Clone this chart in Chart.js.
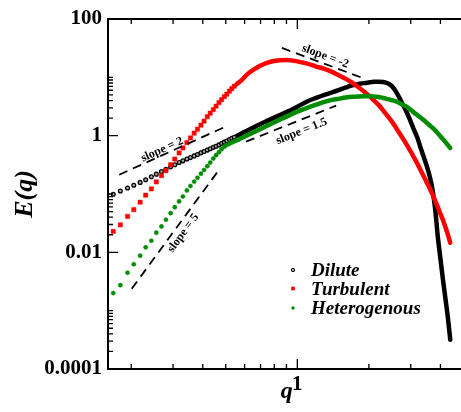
<!DOCTYPE html>
<html>
<head>
<meta charset="utf-8">
<title>E(q)</title>
<script src="https://cdn.jsdelivr.net/npm/chart.js@4.4.1/dist/chart.umd.min.js"></script>
<style>
  html, body { margin: 0; padding: 0; overflow: hidden; background: #fff; }
  canvas { display: block; }
</style>
</head>
<body>
<canvas id="spectrum" width="469" height="412"></canvas>
<script>
// wavenumbers shared by all three spectra
const q = [0.168, 0.180, 0.193, 0.205, 0.218, 0.230, 0.243, 0.255, 0.268, 0.280,
           0.293, 0.305, 0.318, 0.330, 0.343, 0.355, 0.368, 0.380, 0.393, 0.405,
           0.418, 0.430, 0.443, 0.455, 0.468, 0.480, 0.493, 0.505, 0.518, 0.530,
           0.543, 0.555, 0.58, 0.62, 0.66, 0.70, 0.75, 0.80, 0.85, 0.90, 0.95,
           1.0, 1.1, 1.2, 1.3, 1.4, 1.5, 1.6, 1.7, 1.8, 1.9,
           2.0, 2.1, 2.2, 2.3, 2.4, 2.5, 2.6, 2.7, 2.8, 2.9,
           3.0, 3.1, 3.2, 3.3, 3.4, 3.5, 3.6, 3.7, 3.8, 3.9,
           4.0, 4.1, 4.2, 4.3, 4.4];

const dilute = [0.0993, 0.1126, 0.127, 0.1416, 0.158, 0.176, 0.197, 0.219, 0.242, 0.265,
                0.292, 0.317, 0.346, 0.370, 0.397, 0.421, 0.450, 0.476, 0.507, 0.536,
                0.566, 0.596, 0.630, 0.660, 0.695, 0.732, 0.774, 0.811, 0.857, 0.899,
                0.942, 0.988, 1.082, 1.242, 1.41, 1.59, 1.81, 2.04, 2.28, 2.54, 2.80,
                3.14, 3.86, 4.45, 5.01, 5.51, 6.08, 6.71, 7.32, 7.64, 7.95,
                8.18, 8.37, 8.44, 8.34, 7.92, 7.06, 5.69, 4.31, 3.21, 2.40,
                1.74, 1.24, 0.924, 0.622, 0.436, 0.306, 0.206, 0.123, 0.056, 0.0185,
                0.00777, 0.00339, 0.00160, 0.000755, 0.000317];

const turbulent = [0.0228, 0.0295, 0.0413, 0.0538, 0.0723, 0.0953, 0.122, 0.161, 0.206, 0.251,
                   0.318, 0.398, 0.505, 0.615, 0.759, 0.913, 1.104, 1.29, 1.51, 1.77,
                   2.12, 2.43, 2.79, 3.21, 3.68, 4.14, 4.67, 5.15, 5.80, 6.40,
                   7.06, 7.64, 8.78, 11.57, 13.8, 15.9, 17.9, 19.1, 19.7, 19.9, 19.5,
                   18.8, 17.2, 15.3, 14.0, 12.4, 10.8, 9.42, 8.11, 6.84, 5.78,
                   4.85, 4.02, 3.34, 2.69, 2.16, 1.74, 1.37, 1.08, 0.854, 0.674,
                   0.532, 0.419, 0.331, 0.256, 0.202, 0.159, 0.127, 0.0993, 0.0767, 0.0594,
                   0.0459, 0.0356, 0.0270, 0.0201, 0.0146];

const heterogenous = [0.00200, 0.00273, 0.00447, 0.00625, 0.00875, 0.0122, 0.0158, 0.0217, 0.0278, 0.0362,
                      0.0469, 0.0594, 0.0747, 0.0906, 0.115, 0.137, 0.163, 0.190, 0.223, 0.258,
                      0.300, 0.347, 0.406, 0.463, 0.521, 0.587, 0.647, 0.692, 0.729, 0.762,
                      0.798, 0.828, 0.902, 1.024, 1.153, 1.303, 1.496, 1.698, 1.91, 2.12, 2.35,
                      2.58, 3.00, 3.40, 3.80, 4.10, 4.31, 4.50, 4.63, 4.70, 4.74,
                      4.74, 4.70, 4.59, 4.42, 4.23, 4.05, 3.86, 3.61, 3.33, 3.08,
                      2.79, 2.48, 2.25, 2.04, 1.85, 1.67, 1.51, 1.37, 1.24, 1.10,
                      0.980, 0.871, 0.773, 0.687, 0.615];

// labelled ticks and the unlabelled subdivisions
const xMajor = [1];
const xMinor = [0.2, 0.3, 0.4, 0.5, 0.6, 0.7, 0.8, 0.9, 2, 3, 4, 5];
const yMajor = [0.0001, 0.01, 1, 100];
const yMinor = [0.0002, 0.0003, 0.0004, 0.0005, 0.0006, 0.0007, 0.0008, 0.0009, 0.001,
                0.02, 0.03, 0.04, 0.05, 0.06, 0.07, 0.08, 0.09, 0.1,
                2, 3, 4, 5, 6, 7, 8, 9, 10];

// power-law guides: end points and caption anchor, all in (q, E)
const guides = [
  { text: 'slope = 2',   from: [0.178, 0.214],   to: [0.501, 1.44],  at: [0.270, 0.575] },
  { text: 'slope = 5',   from: [0.201, 0.00238], to: [0.463, 0.244], at: [0.331, 0.0214] },
  { text: 'slope = 1.5', from: [0.608, 0.789],   to: [1.456, 3.27],  at: [1.042, 1.185] },
  { text: 'slope = -2',  from: [0.861, 31.9],    to: [1.88, 9.77],   at: [1.31, 22.9] }
];

const SERIF = '"Liberation Serif", "Times New Roman", serif';
const SPARSE_END = 0.55;   // below this q the samples show as separate markers

function spectrum(label, values, color, style, radius, fill, order) {
  const ring = fill !== color;
  return {
    label: label,
    order: order,
    data: q.map((x, i) => ({ x: x, y: values[i] })),
    borderColor: color,
    borderWidth: 4.5,
    borderCapStyle: 'round',
    borderJoinStyle: 'round',
    cubicInterpolationMode: 'monotone',
    fill: false,
    segment: {
      borderColor: ctx => ctx.p0.parsed.x < SPARSE_END ? 'transparent' : color
    },
    pointStyle: style,
    pointRadius: ctx => (ctx.raw && ctx.raw.x < SPARSE_END) ? radius : 0,
    pointHoverRadius: 0,
    pointBorderColor: color,
    pointBackgroundColor: fill,
    pointBorderWidth: ring ? 1.3 : 0.5,
    keyStyle: style,
    keyFill: fill
  };
}

const series = [
  spectrum('Dilute', dilute, '#000000', 'circle', 1.9, '#a8a8a8', 3),
  spectrum('Turbulent', turbulent, '#ff0000', 'rect', 3, '#ff0000', 2),
  spectrum('Heterogenous', heterogenous, '#008c00', 'circle', 2.1, '#008c00', 1)
];

const guideSets = guides.map(g => ({
  label: g.text,
  order: 0,
  data: [{ x: g.from[0], y: g.from[1] }, { x: g.to[0], y: g.to[1] }],
  borderColor: '#000',
  borderWidth: 1.8,
  borderDash: [9, 6],
  pointRadius: 0,
  pointHoverRadius: 0,
  fill: false
}));

// captions written along each guide
const guideCaptions = {
  id: 'guideCaptions',
  afterDatasetsDraw(chart) {
    const { ctx, scales: { x, y } } = chart;
    ctx.save();
    ctx.fillStyle = '#000';
    ctx.font = 'bold 12px ' + SERIF;
    ctx.textAlign = 'center';
    ctx.textBaseline = 'middle';
    guides.forEach(g => {
      const x0 = x.getPixelForValue(g.from[0]), y0 = y.getPixelForValue(g.from[1]);
      const x1 = x.getPixelForValue(g.to[0]), y1 = y.getPixelForValue(g.to[1]);
      const ang = Math.atan2(y1 - y0, x1 - x0);
      ctx.save();
      ctx.translate(x.getPixelForValue(g.at[0]), y.getPixelForValue(g.at[1]));
      ctx.rotate(ang);
      ctx.fillText(g.text, 0, 0);
      ctx.restore();
    });
    ctx.restore();
  }
};

// key in the lower right of the plot
const seriesKey = {
  id: 'seriesKey',
  afterDraw(chart) {
    const { ctx, chartArea: a } = chart;
    ctx.save();
    ctx.font = 'italic bold 19px ' + SERIF;
    ctx.textBaseline = 'alphabetic';
    ctx.textAlign = 'left';
    const rows = [251, 269.5, 289];
    series.forEach((s, i) => {
      const sx = a.left + 185, sy = a.top + rows[i];
      ctx.fillStyle = s.borderColor;
      ctx.strokeStyle = s.borderColor;
      if (s.keyStyle === 'rect') {
        ctx.fillRect(sx - 1.8, sy - 1.8, 3.6, 3.6);
      } else {
        ctx.beginPath();
        ctx.arc(sx, sy, 1.7, 0, Math.PI * 2);
        if (s.keyFill !== s.borderColor) {
          ctx.lineWidth = 1;
          ctx.fillStyle = s.keyFill;
          ctx.fill();
          ctx.stroke();
        } else {
          ctx.fill();
        }
      }
      ctx.fillStyle = '#000';
      ctx.fillText(s.label, sx + 18, sy + 6);
    });
    ctx.restore();
  }
};

// box with inward tick marks on the bottom, top and left sides
const frame = {
  id: 'frame',
  afterDraw(chart) {
    const { ctx, chartArea: a, scales: { x, y } } = chart;
    ctx.save();
    ctx.strokeStyle = '#000';
    ctx.lineWidth = 1.3;
    ctx.beginPath();
    xMajor.concat(xMinor).forEach(v => {
      const px = x.getPixelForValue(v);
      const len = xMajor.includes(v) ? 10 : 5;
      ctx.moveTo(px, a.bottom); ctx.lineTo(px, a.bottom - len);
      ctx.moveTo(px, a.top); ctx.lineTo(px, a.top + len);
    });
    yMajor.concat(yMinor).forEach(v => {
      const py = y.getPixelForValue(v);
      const len = yMajor.includes(v) ? 10 : 5;
      ctx.moveTo(a.left, py); ctx.lineTo(a.left + len, py);
    });
    ctx.stroke();
    ctx.lineWidth = 2;
    ctx.strokeRect(a.left, a.top, a.right - a.left, a.bottom - a.top);
    ctx.restore();
  }
};

const tickFont = { family: SERIF, size: 21, weight: 'bold' };

new Chart(document.getElementById('spectrum'), {
  type: 'line',
  data: { datasets: guideSets.concat(series) },
  options: {
    responsive: false,
    animation: false,
    events: [],
    layout: { padding: { top: 19, left: 0, right: 0, bottom: 0 } },
    plugins: { legend: { display: false }, tooltip: { enabled: false } },
    scales: {
      x: {
        type: 'logarithmic',
        min: 0.1597,
        max: 5.10,
        afterBuildTicks: s => {
          s.ticks = xMajor.concat(xMinor).sort((a, b) => a - b).map(v => ({ value: v }));
        },
        afterFit: s => { s.height = 43; },
        grid: { display: false, drawTicks: false },
        border: { display: false },
        ticks: {
          autoSkip: false, maxRotation: 0, minRotation: 0, padding: 3,
          color: '#000', font: tickFont,
          callback: v => xMajor.includes(v) ? String(v) : ''
        },
        title: {
          display: true, text: 'q', color: '#000',
          font: { family: SERIF, size: 24, weight: 'bold', style: 'italic', lineHeight: 1 },
          padding: { top: 0, bottom: 8 }
        }
      },
      y: {
        type: 'logarithmic',
        min: 0.0001,
        max: 100,
        afterBuildTicks: s => {
          s.ticks = yMajor.concat(yMinor).sort((a, b) => a - b).map(v => ({ value: v }));
        },
        afterFit: s => { s.width = 108; },
        grid: { display: false, drawTicks: false },
        border: { display: false },
        ticks: {
          autoSkip: false, padding: 6,
          color: '#000', font: tickFont,
          callback: v => yMajor.includes(v) ? String(v) : ''
        },
        title: {
          display: true, text: 'E(q)', color: '#000',
          font: { family: SERIF, size: 26, weight: 'bold', style: 'italic', lineHeight: 1 },
          padding: { top: 12, bottom: 0 }
        }
      }
    }
  },
  plugins: [guideCaptions, seriesKey, frame]
});
</script>
</body>
</html>
